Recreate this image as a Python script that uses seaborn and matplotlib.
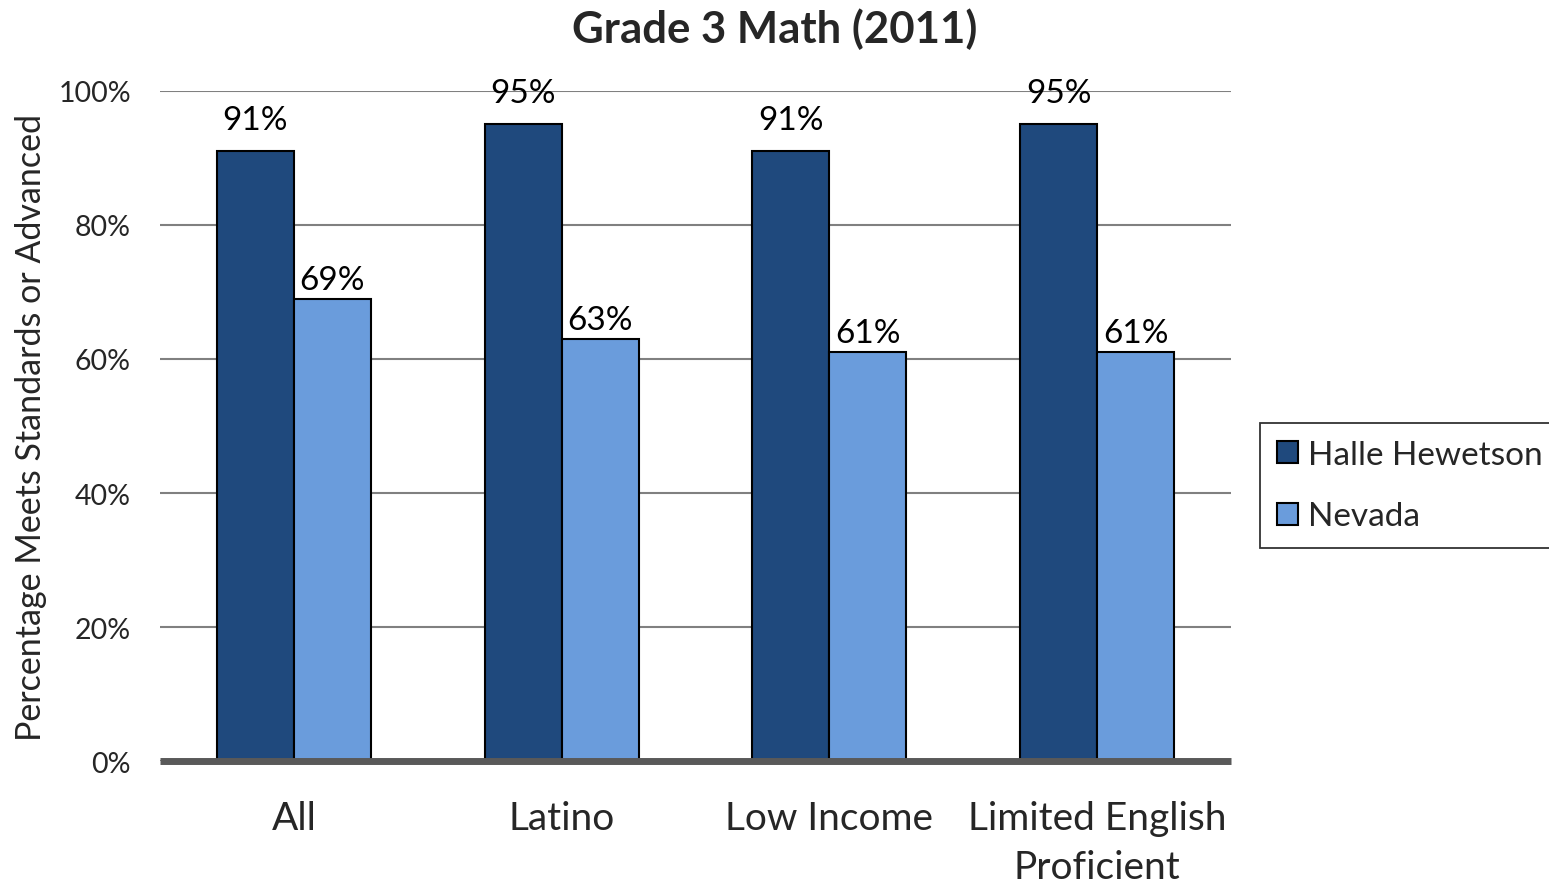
import pandas as pd
import seaborn as sns
import matplotlib.pyplot as plt
from matplotlib.ticker import PercentFormatter

# chart data
groups = ["All", "Latino", "Low Income", "Limited English\nProficient"]
halle = [91, 95, 91, 95]
nevada = [69, 63, 61, 61]
series_names = ["Halle Hewetson", "Nevada"]
colors = ["#1F497D", "#6A9CDC"]

df = pd.DataFrame({
    "group": groups * 2,
    "value": halle + nevada,
    "series": [series_names[0]] * len(groups) + [series_names[1]] * len(groups),
})

sns.set_style("white")
plt.rcParams["font.family"] = ["Lato", "DejaVu Sans"]

fig = plt.figure(figsize=(15.49, 8.87), dpi=100)
ax = fig.add_axes([0.1033, 0.1409, 0.6914, 0.7554])

sns.barplot(data=df, x="group", y="value", hue="series", palette=colors,
            saturation=1, width=0.575, edgecolor="black", linewidth=1.5,
            ax=ax, zorder=3)

# dark bars get their labels a bit higher than the light ones
for cont, pad in zip(ax.containers, [12, 3]):
    ax.bar_label(cont, fmt="%.0f%%", padding=pad, fontsize=24, color="black")

ax.set_ylim(0, 100)
ax.set_yticks(range(0, 101, 20))
ax.yaxis.set_major_formatter(PercentFormatter(decimals=0))
ax.grid(axis="y", color="#808080", linewidth=1.5, zorder=0)
ax.set_axisbelow(True)
ax.tick_params(axis="y", length=0, pad=21, labelsize=20.5)
ax.tick_params(axis="x", length=0, pad=28, labelsize=28)
for lab in ax.get_xticklabels():
    lab.set_linespacing(1.45)
    lab.set_verticalalignment("top")

for s in ["top", "right", "left"]:
    ax.spines[s].set_visible(False)
ax.spines["bottom"].set_color("#595959")
ax.spines["bottom"].set_linewidth(5)
ax.spines["bottom"].set_zorder(5)
ax.spines["bottom"].set_capstyle("butt")

ax.set_xlabel("")
ax.set_ylabel("Percentage Meets Standards or Advanced", fontsize=24.5, labelpad=8)
fig.suptitle("Grade 3 Math (2011)", fontsize=31.5, fontweight="bold", y=0.99)

leg = ax.legend(loc="upper left", bbox_to_anchor=(1260 / 1549, 1 - 424 / 887),
                bbox_transform=fig.transFigure, fontsize=24, frameon=True,
                fancybox=False, edgecolor="black", handlelength=0.65,
                handleheight=0.65, handletextpad=0.3, labelspacing=0.95,
                borderpad=0.5, borderaxespad=0)
leg.get_frame().set_linewidth(1.3)

fig.savefig("out.png", dpi=100)
